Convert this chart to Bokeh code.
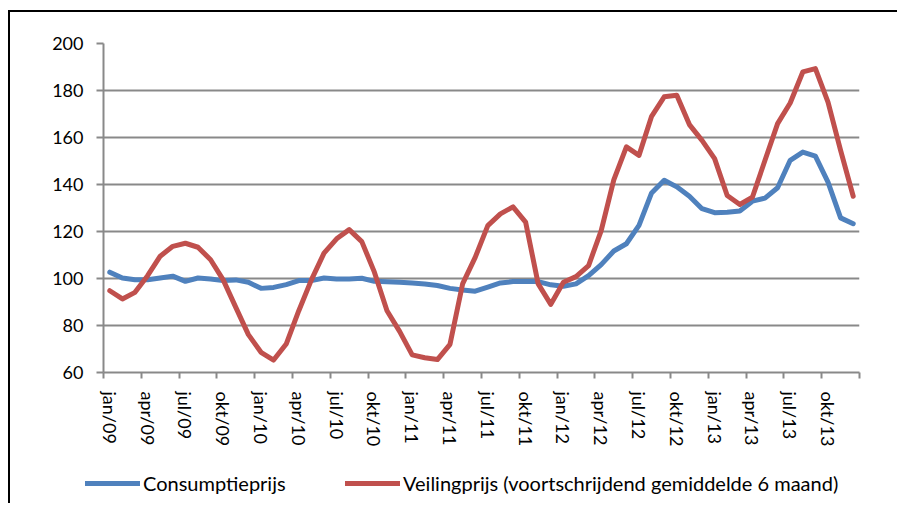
from bokeh.plotting import figure
from bokeh.models import Range1d, FixedTicker, Legend, LegendItem
from bokeh.embed import file_html
from bokeh.resources import INLINE

months = ["jan", "feb", "mrt", "apr", "mei", "jun", "jul", "aug", "sep", "okt", "nov", "dec"]
years = ["09", "10", "11", "12", "13"]
categories = [f"{m}/{y}" for y in years for m in months]

consumptieprijs = [
    102.7, 100.2, 99.5, 99.5, 100.2, 101.0, 98.8, 100.2, 99.8, 99.1, 99.4, 98.4,
    95.8, 96.2, 97.4, 99.1, 99.1, 100.2, 99.8, 99.8, 100.1, 98.8, 98.6, 98.4,
    98.1, 97.7, 97.0, 95.8, 95.1, 94.6, 96.3, 98.1, 98.7, 98.7, 98.7, 97.3,
    96.7, 97.7, 101.2, 105.9, 111.7, 114.8, 122.6, 136.4, 141.8, 139.0, 135.0, 129.7,
    128.0, 128.2, 128.7, 132.9, 134.2, 138.6, 150.3, 153.8, 152.1, 141.0, 125.8, 123.3,
]
veilingprijs = [
    94.8, 91.3, 94.1, 101.2, 109.5, 113.7, 115.0, 113.3, 108.0, 99.4, 87.7, 76.1,
    68.6, 65.3, 72.1, 86.3, 99.4, 110.8, 116.9, 120.8, 115.7, 102.7, 86.3, 77.5,
    67.5, 66.3, 65.5, 72.0, 97.7, 109.0, 122.5, 127.5, 130.5, 124.0, 97.7, 89.0,
    98.4, 100.8, 105.5, 120.4, 142.0, 156.0, 152.4, 169.0, 177.3, 178.0, 165.5, 158.8,
    151.0, 135.3, 131.5, 134.6, 150.3, 165.9, 174.7, 187.9, 189.3, 175.1, 154.5, 135.0,
]
series_names = ["Consumptieprijs", "Veilingprijs (voortschrijdend gemiddelde 6 maand)"]
series_colors = ["#4F81BD", "#C0504D"]
y_ticks = [60, 80, 100, 120, 140, 160, 180, 200]

FONT = "Lato"
FSIZE = "18px"
LEG_FSIZE = "20px"
GRID = "#898989"
LW = 5
x = list(range(len(categories)))
series = [consumptieprijs, veilingprijs]

p = figure(width=889, height=440, output_backend="svg", toolbar_location=None,
           x_range=Range1d(-0.5, len(categories) - 0.5), y_range=Range1d(60, 200),
           min_border_left=93, min_border_right=40, min_border_top=31, min_border_bottom=80)
p.outline_line_color = None
p.styles = {"border-left": "2px solid black", "border-top": "2px solid black",
            "margin-top": "10px", "margin-left": "8px"}

for ys, color in zip(series, series_colors):
    p.line(x, ys, line_color=color, line_width=LW, line_join="round", line_cap="round")

# x axis: labels at every 3rd category, tick marks on category boundaries
lab_pos = list(range(0, len(categories), 3))
p.xaxis.ticker = FixedTicker(ticks=lab_pos,
                             minor_ticks=[i - 0.5 for i in range(0, len(categories) + 1, 3)])
p.xaxis.major_label_overrides = {i: categories[i] for i in lab_pos}
p.xaxis.major_label_orientation = "vertical"
p.xaxis.major_tick_line_color = None
p.xaxis.major_tick_out = 0
p.xaxis.major_tick_in = 0
p.xaxis.minor_tick_line_color = GRID
p.xaxis.minor_tick_line_width = 2
p.xaxis.minor_tick_out = 6
p.xaxis.minor_tick_in = 0
p.xaxis.major_label_standoff = 13
p.xaxis.axis_line_color = GRID
p.xaxis.axis_line_width = 2

p.yaxis.ticker = FixedTicker(ticks=y_ticks)
p.yaxis.major_tick_line_color = GRID
p.yaxis.major_tick_line_width = 2
p.yaxis.major_tick_out = 7
p.yaxis.major_tick_in = 0
p.yaxis.minor_tick_line_color = None
p.yaxis.major_label_standoff = 13
p.yaxis.axis_line_color = GRID
p.yaxis.axis_line_width = 2

for ax in (p.xaxis, p.yaxis):
    ax.major_label_text_font = FONT
    ax.major_label_text_font_size = FSIZE
    ax.major_label_text_color = "black"

p.xgrid.grid_line_color = None
p.ygrid.ticker = FixedTicker(ticks=y_ticks)
p.ygrid.grid_line_color = GRID
p.ygrid.grid_line_width = 2

# legend strip below the chart (series drawn outside its view, only the legend shows)
pl = figure(width=889, height=53, output_backend="svg", toolbar_location=None,
            x_axis_type=None, y_axis_type=None, min_border=0,
            x_range=Range1d(0, 1), y_range=Range1d(0, 1))
pl.outline_line_color = None
pl.xgrid.visible = False
pl.ygrid.visible = False
pl.styles = {"border-left": "2px solid black", "margin-left": "8px"}
legend_x = [75, 335]
for name, color, ys, lx in zip(series_names, series_colors, series, legend_x):
    r = pl.line(x, ys, line_color=color, line_width=LW, line_cap="round")
    lg = Legend(items=[LegendItem(label=name, renderers=[r])],
                location=(lx, 8), orientation="horizontal",
                glyph_width=55, glyph_height=22, label_height=22, label_standoff=3,
                padding=0, margin=0, spacing=0,
                label_text_font=FONT, label_text_font_size=LEG_FSIZE, label_text_color="black",
                border_line_color=None, background_fill_alpha=0)
    pl.add_layout(lg, "center")

open("out.html", "w").write(file_html([p, pl], INLINE))
